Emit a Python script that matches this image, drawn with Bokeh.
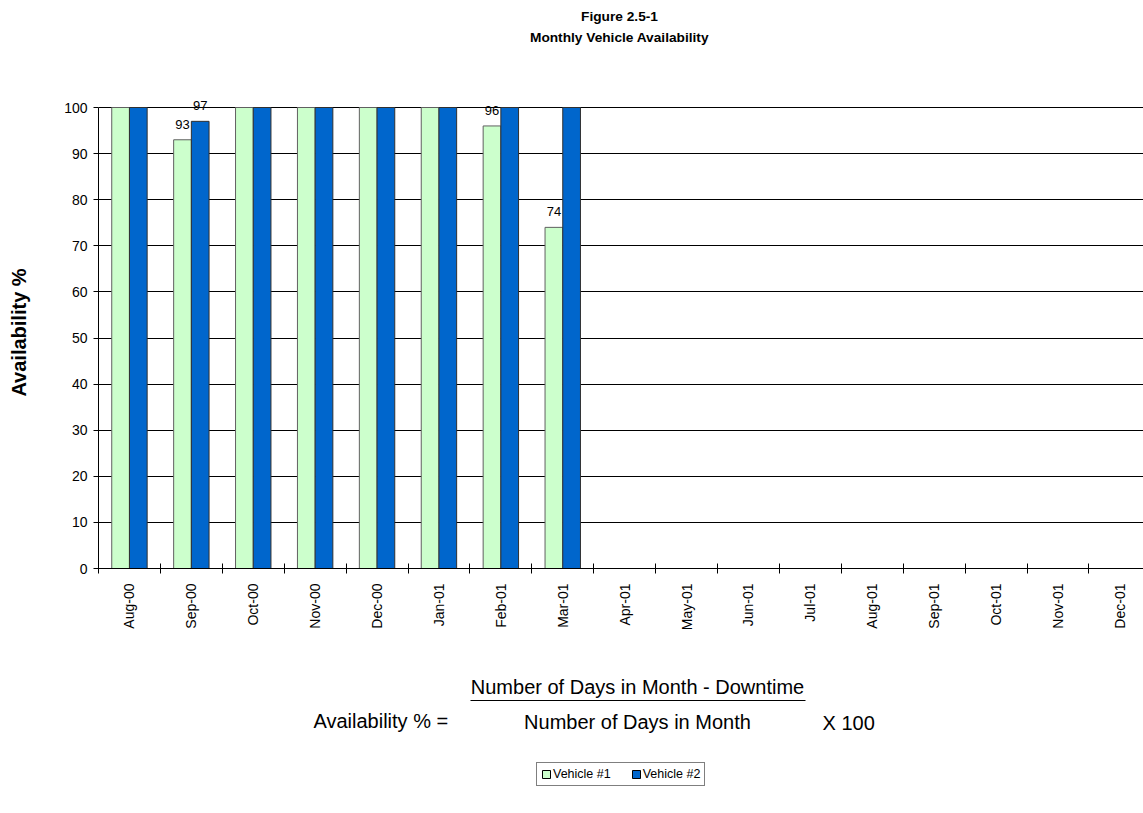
import numpy as np
from bokeh.plotting import figure
from bokeh.layouts import column
from bokeh.models import (ColumnDataSource, FixedTicker, Label, LabelSet, Legend,
                          LegendItem, Range1d)
from bokeh.core.properties import value
from bokeh.embed import file_html
from bokeh.resources import INLINE

# ---------------- data ----------------
months = ["Aug-00", "Sep-00", "Oct-00", "Nov-00", "Dec-00", "Jan-01", "Feb-01",
          "Mar-01", "Apr-01", "May-01", "Jun-01", "Jul-01", "Aug-01", "Sep-01",
          "Oct-01", "Nov-01", "Dec-01"]
vehicle1 = [100, 93, 100, 100, 100, 100, 96, 74]
vehicle2 = [100, 97, 100, 100, 100, 100, 100, 100]
y_ticks = [0, 10, 20, 30, 40, 50, 60, 70, 80, 90, 100]
series_names = ["Vehicle #1", "Vehicle #2"]
colors = ["#CCFFCC", "#0066CC"]
outlines = ["#606060", "#303030"]

# ---------------- layout ----------------
FONT = "Liberation Sans"
W = 1143
HEAD_H = 96            # header strip (titles)
MAIN_BOTTOM = 650      # page y where the main plot ends
TOTAL_H = 813
FRAME_L = 98
FRAME_B = 568
Y100 = 107             # page y of the 100 line
CAT_PX = 61.9
Y_PX = (FRAME_B - Y100) / 100.0
x_end = (W - FRAME_L) / CAT_PX
y_end = 100 + (Y100 - HEAD_H) / Y_PX


def blank(height):
    # frames of a column are aligned, so the frame spans FRAME_L..W (page px)
    f = figure(width=W, height=height, x_range=Range1d(FRAME_L, W),
               y_range=Range1d(height, 0),
               output_backend="svg", toolbar_location=None,
               x_axis_location=None, y_axis_location=None,
               min_border=0, min_border_left=FRAME_L, min_border_right=0,
               min_border_top=0, min_border_bottom=0)
    f.outline_line_color = None
    f.xgrid.visible = False
    f.ygrid.visible = False
    f.background_fill_color = "white"
    f.border_fill_color = "white"
    return f


# ---------------- header (titles) ----------------
head = blank(HEAD_H)
for txt, py in (("Figure 2.5-1", 16), ("Monthly Vehicle Availability", 37)):
    head.add_layout(Label(x=619, y=py, text=txt, text_align="center",
                          text_baseline="middle", text_font=FONT, text_font_size="13.7px",
                          text_font_style="bold", text_color="black"))

# ---------------- main chart ----------------
p = figure(width=W, height=MAIN_BOTTOM - HEAD_H, x_range=Range1d(0, x_end),
           y_range=Range1d(0, y_end), output_backend="svg", toolbar_location=None,
           min_border_left=FRAME_L, min_border_right=0, min_border_top=0,
           min_border_bottom=MAIN_BOTTOM - FRAME_B)
p.outline_line_color = None
p.background_fill_color = "white"
p.border_fill_color = "white"

half = 0.143
bw = 0.286
x1 = [i + 0.5 - half for i in range(len(vehicle1))]
x2 = [i + 0.5 + half for i in range(len(vehicle2))]
src1 = ColumnDataSource(dict(x=x1, top=vehicle1))
src2 = ColumnDataSource(dict(x=x2, top=vehicle2))
p.vbar(x="x", top="top", bottom=0, width=bw, source=src1,
       fill_color=colors[0], line_color=outlines[0], line_width=1)
p.vbar(x="x", top="top", bottom=0, width=bw, source=src2,
       fill_color=colors[1], line_color=outlines[1], line_width=1)

# data labels (values below 100 only, as in the original)
lx, ly, lt = [], [], []
for xs, vs in ((x1, vehicle1), (x2, vehicle2)):
    for xv, v in zip(xs, vs):
        if v < 100:
            lx.append(xv)
            ly.append(v)
            lt.append(str(v))
lab_src = ColumnDataSource(dict(x=lx, y=ly, t=lt))
p.add_layout(LabelSet(x="x", y="y", text="t", source=lab_src, text_align="center",
                      text_baseline="alphabetic", y_offset=11,
                      text_font=value(FONT), text_font_size=value("13px"),
                      text_color="black"))

# y axis
p.yaxis.ticker = FixedTicker(ticks=y_ticks, minor_ticks=[])
p.yaxis.bounds = (0, 100)
p.yaxis.major_tick_in = 0
p.yaxis.major_tick_out = 5
p.yaxis.major_tick_line_color = "black"
p.yaxis.axis_line_color = "black"
p.yaxis.major_label_text_font = FONT
p.yaxis.major_label_text_font_size = "14px"
p.yaxis.major_label_text_color = "black"
p.yaxis.major_label_standoff = 6
p.yaxis.axis_label = "Availability %"
p.yaxis.axis_label_text_font = FONT
p.yaxis.axis_label_text_font_size = "20px"
p.yaxis.axis_label_text_font_style = "bold"
p.yaxis.axis_label_text_color = "black"
p.yaxis.axis_label_standoff = 31

# x axis: labels at category centres, tick marks at category boundaries
centers = [i + 0.5 for i in range(len(months))]
bounds = list(range(len(months) + 1))
p.xaxis.ticker = FixedTicker(ticks=centers, minor_ticks=bounds)
p.xaxis.major_label_overrides = {c: m for c, m in zip(centers, months)}
p.xaxis.major_tick_line_color = None
p.xaxis.minor_tick_line_color = "black"
p.xaxis.minor_tick_in = 5
p.xaxis.minor_tick_out = 5
p.xaxis.axis_line_color = "black"
p.xaxis.major_label_orientation = np.pi / 2
p.xaxis.major_label_text_font = FONT
p.xaxis.major_label_text_font_size = "14px"
p.xaxis.major_label_text_color = "black"
p.xaxis.major_label_standoff = 9

p.ygrid.ticker = FixedTicker(ticks=y_ticks)
p.ygrid.grid_line_color = "black"
p.ygrid.grid_line_width = 1
p.xgrid.visible = False

# ---------------- footer (formula + legend) ----------------
foot = blank(TOTAL_H - MAIN_BOTTOM)
oy = MAIN_BOTTOM
FS = "20px"
foot.add_layout(Label(x=313, y=720 - oy, text="Availability % =", text_align="left",
                      text_baseline="middle", text_font=FONT, text_font_size=FS,
                      text_color="black"))
foot.add_layout(Label(x=637, y=686 - oy, text="Number of Days in Month - Downtime",
                      text_align="center", text_baseline="middle", text_font=FONT,
                      text_font_size=FS, text_color="black"))
foot.add_layout(Label(x=637, y=721 - oy, text="Number of Days in Month",
                      text_align="center", text_baseline="middle", text_font=FONT,
                      text_font_size=FS, text_color="black"))
foot.add_layout(Label(x=822, y=722 - oy, text="X 100", text_align="left",
                      text_baseline="middle", text_font=FONT, text_font_size=FS,
                      text_color="black"))
foot.segment(x0=[470], y0=[700 - oy], x1=[805], y1=[700 - oy], line_color="black",
             line_width=1)

# legend proxies (renderers with one NaN point carrying the series styles)
proxies = [foot.vbar(x=[np.nan], top=[np.nan], width=1, fill_color=c, line_color="black")
           for c in colors]
legend = Legend(items=[LegendItem(label=n, renderers=[r]) for n, r in zip(series_names, proxies)],
                orientation="horizontal", location=(536 - FRAME_L, TOTAL_H - 786),
                border_line_color="black", border_line_width=1,
                background_fill_color="white", background_fill_alpha=1,
                padding=4, spacing=20, margin=0, label_standoff=2,
                glyph_width=10, glyph_height=10, label_height=13,
                label_text_font=FONT, label_text_font_size="12.5px",
                label_text_color="black", label_text_baseline="middle")
foot.add_layout(legend, "center")

layout = column(head, p, foot, spacing=0)
open("out.html", "w").write(file_html(layout, INLINE))
